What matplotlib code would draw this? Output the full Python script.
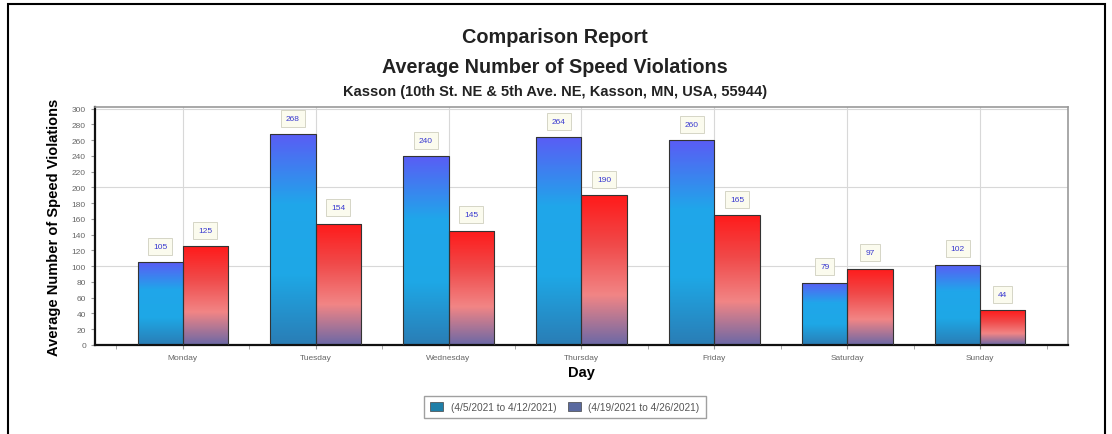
import numpy as np
import matplotlib
matplotlib.use("Agg")
import matplotlib.pyplot as plt
from matplotlib.colors import LinearSegmentedColormap
from matplotlib.patches import Rectangle, Patch

plt.rcParams["font.family"] = ["Liberation Sans", "DejaVu Sans"]

days = ["Monday", "Tuesday", "Wednesday", "Thursday", "Friday", "Saturday", "Sunday"]
week1 = [105, 268, 240, 264, 260, 79, 102]
week2 = [125, 154, 145, 190, 165, 97, 44]
series_labels = ["(4/5/2021 to 4/12/2021)", "(4/19/2021 to 4/26/2021)"]

# gradients, bottom -> top
blue_cmap = LinearSegmentedColormap.from_list("b", ["#2a7db5", "#1ea8e6", "#20a6ea", "#5a5cf5"])
red_cmap = LinearSegmentedColormap.from_list("r", ["#6b68a6", "#f28585", "#f04a4a", "#ff1a1a"])

fig = plt.figure(figsize=(11.12, 4.35), dpi=100)
ax = fig.add_axes([0.0854, 0.2046, 0.8750, 0.5471])

x = np.arange(len(days))
w = 0.34
grad = np.linspace(0, 1, 256).reshape(-1, 1)

for vals, off, cmap in [(week1, -w / 2, blue_cmap), (week2, w / 2, red_cmap)]:
    for xi, v in zip(x, vals):
        left = xi + off - w / 2
        rect = Rectangle((left, 0), w, v, facecolor="none", edgecolor="#333333", lw=0.8, zorder=3)
        ax.add_patch(rect)
        im = ax.imshow(grad, cmap=cmap, origin="lower", aspect="auto",
                       extent=[left, left + w, 0, v], zorder=2)
        im.set_clip_path(rect)
        ax.text(xi + off, v + 20, str(v), ha="center", va="center", fontsize=6, color="#3a3ad0",
                bbox=dict(boxstyle="square,pad=0.6", fc="#fbfbee", ec="#cfcfbf", lw=0.6), zorder=4)

ax.set_xlim(-0.66, 6.66)
ax.set_ylim(0, 302)
ax.set_yticks(range(0, 301, 20))
ax.set_xticks(x)
ax.set_xticklabels(days)
ax.set_xticks(np.arange(-0.5, 7, 0.5), minor=True)
ax.tick_params(axis="both", labelsize=6, labelcolor="#666666", color="#999999", length=3)
ax.tick_params(axis="x", which="minor", length=3, color="#999999")

# grid at category centres and every 100
for xi in x:
    ax.axvline(xi, color="#d8d8d8", lw=0.8, zorder=1)
for yv in [100, 200, 300]:
    ax.axhline(yv, color="#d8d8d8", lw=0.8, zorder=1)

for s in ["top", "right"]:
    ax.spines[s].set_color("#999999")
    ax.spines[s].set_linewidth(1.2)
for s in ["left", "bottom"]:
    ax.spines[s].set_color("#111111")
    ax.spines[s].set_linewidth(1.6)

ax.set_ylabel("Average Number of Speed Violations", fontsize=10.5, fontweight="bold", labelpad=8)
ax.set_xlabel("Day", fontsize=10.5, fontweight="bold", labelpad=3)

fig.text(0.499, 0.913, "Comparison Report", ha="center", va="center", fontsize=14.3, fontweight="bold", color="#222222")
fig.text(0.499, 0.845, "Average Number of Speed Violations", ha="center", va="center", fontsize=14.2, fontweight="bold", color="#222222")
fig.text(0.499, 0.789, "Kasson (10th St. NE & 5th Ave. NE, Kasson, MN, USA, 55944)", ha="center", va="center",
         fontsize=10.5, fontweight="bold", color="#222222")

handles = [Patch(fc="#1f7fa8", ec="#444444", lw=0.5), Patch(fc="#5a6aa0", ec="#444444", lw=0.5)]
leg = fig.legend(handles, series_labels, loc="center", bbox_to_anchor=(0.508, 0.062), ncol=2,
                 fontsize=7.3, frameon=True, fancybox=False, handlelength=1.3, handleheight=0.9,
                 columnspacing=1.2, handletextpad=0.7, borderpad=0.6)
leg.get_frame().set_edgecolor("#888888")
for t in leg.get_texts():
    t.set_color("#555555")

# outer frame of the report
fig.add_artist(Rectangle((8 / 1112, -0.1), (1105 - 8) / 1112, 1.1 - 5 / 435, transform=fig.transFigure,
                         fill=False, ec="black", lw=1.5))

fig.savefig("out.png", dpi=100)
